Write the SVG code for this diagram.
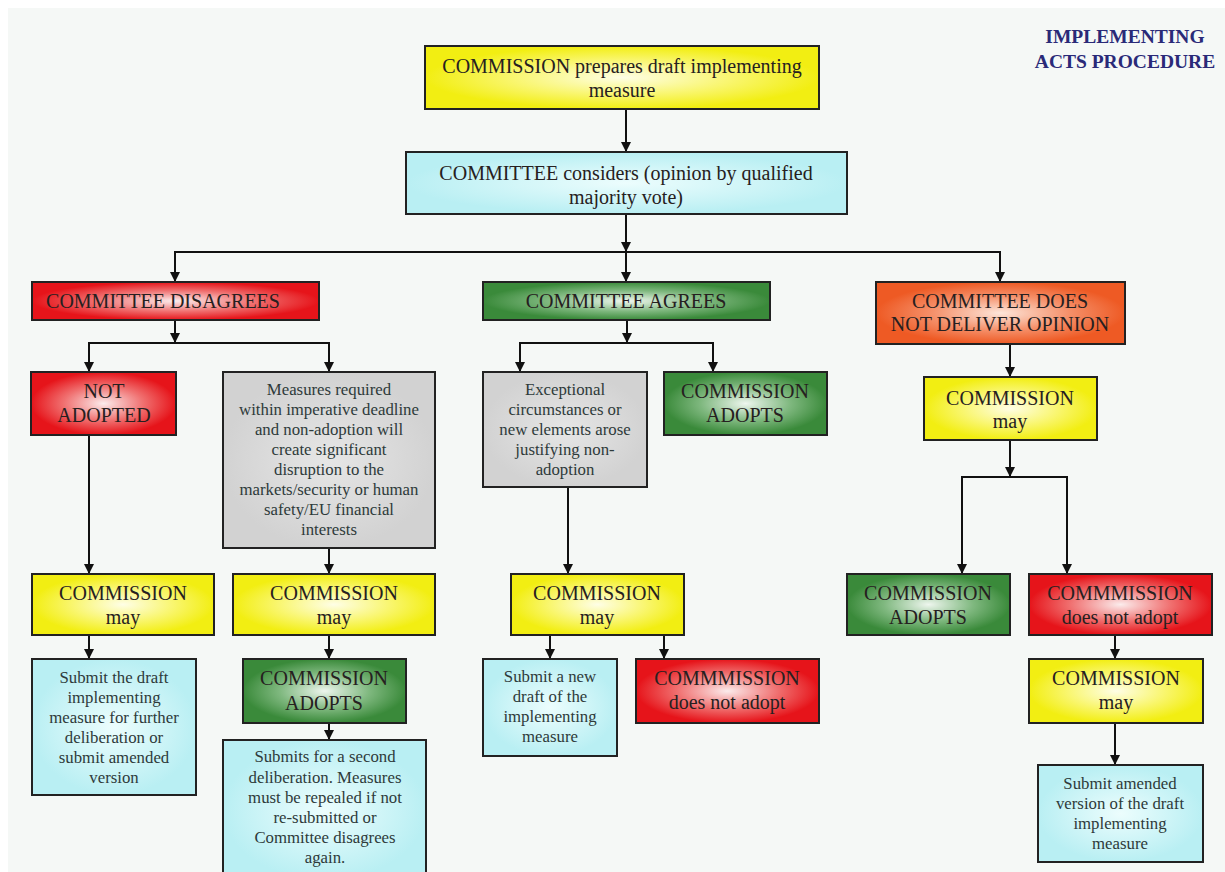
<svg xmlns="http://www.w3.org/2000/svg" width="1225" height="872" viewBox="0 0 1225 872">
<defs>
<radialGradient id="gY"><stop offset="0" stop-color="#fefee6"/><stop offset="0.55" stop-color="#f9f670"/><stop offset="1" stop-color="#f2ee12"/></radialGradient>
<radialGradient id="gR"><stop offset="0" stop-color="#fbecec"/><stop offset="0.55" stop-color="#f07070"/><stop offset="1" stop-color="#e6141a"/></radialGradient>
<radialGradient id="gG"><stop offset="0" stop-color="#eef6ee"/><stop offset="0.55" stop-color="#7fb87f"/><stop offset="1" stop-color="#3a8a3a"/></radialGradient>
<radialGradient id="gO"><stop offset="0" stop-color="#fde6da"/><stop offset="0.55" stop-color="#f5906a"/><stop offset="1" stop-color="#ee5a24"/></radialGradient>
<radialGradient id="gC"><stop offset="0" stop-color="#ecfdfd"/><stop offset="1" stop-color="#b9eff3"/></radialGradient>
<radialGradient id="gS"><stop offset="0" stop-color="#e6e6e6"/><stop offset="1" stop-color="#d2d2d2"/></radialGradient>
<marker id="ah" markerUnits="userSpaceOnUse" markerWidth="11" markerHeight="11" refX="10" refY="5" orient="auto"><path d="M0,0 L10,5 L0,10 z" fill="#111"/></marker>
</defs>
<style>
.b{stroke:#222;stroke-width:2}
.y{fill:url(#gY)}.r{fill:url(#gR)}.g{fill:url(#gG)}.o{fill:url(#gO)}.c{fill:url(#gC)}.s{fill:url(#gS)}
text{font-family:"Liberation Serif","Times New Roman",serif;text-anchor:middle;fill:#262020}
.L{font-size:20px}
.S{font-size:16.8px;fill:#2e3a3a}
.t{font-size:19.5px;font-weight:bold;fill:#2a2a78}
.cn line,.cn polyline{stroke:#111;stroke-width:2;fill:none}
</style>
<rect width="1225" height="872" fill="#ffffff"/>
<rect x="8" y="8" width="1217" height="864" fill="#f5f8f6"/>
<g id="title"><text class="t" x="1125" y="43">IMPLEMENTING</text><text class="t" x="1125" y="68">ACTS PROCEDURE</text></g>

<g class="cn" id="connectors">
<line x1="626" y1="109" x2="626" y2="152" marker-end="url(#ah)"/>
<line x1="626" y1="214" x2="626" y2="252" marker-end="url(#ah)"/>
<polyline points="175,282 175,252 1000,252 1000,282" marker-end="url(#ah)"/>
<line x1="175" y1="252" x2="175" y2="282" marker-end="url(#ah)"/>
<line x1="626" y1="252" x2="626" y2="282" marker-end="url(#ah)"/>
<line x1="175" y1="320" x2="175" y2="343" marker-end="url(#ah)"/>
<polyline points="89,372 89,343 329,343 329,372" marker-end="url(#ah)"/>
<line x1="89" y1="343" x2="89" y2="372" marker-end="url(#ah)"/>
<line x1="89" y1="435" x2="89" y2="574" marker-end="url(#ah)"/>
<line x1="329" y1="548" x2="329" y2="574" marker-end="url(#ah)"/>
<line x1="89" y1="635" x2="89" y2="659" marker-end="url(#ah)"/>
<line x1="329" y1="635" x2="329" y2="659" marker-end="url(#ah)"/>
<line x1="329" y1="723" x2="329" y2="740" marker-end="url(#ah)"/>
<line x1="627" y1="320" x2="627" y2="343" marker-end="url(#ah)"/>
<polyline points="520,372 520,343 713,343 713,372" marker-end="url(#ah)"/>
<line x1="520" y1="343" x2="520" y2="372" marker-end="url(#ah)"/>
<line x1="568" y1="487" x2="568" y2="574" marker-end="url(#ah)"/>
<line x1="550" y1="635" x2="550" y2="659" marker-end="url(#ah)"/>
<line x1="664" y1="635" x2="664" y2="659" marker-end="url(#ah)"/>
<line x1="1010" y1="344" x2="1010" y2="377" marker-end="url(#ah)"/>
<line x1="1010" y1="440" x2="1010" y2="477" marker-end="url(#ah)"/>
<polyline points="962,574 962,477 1067,477 1067,574" marker-end="url(#ah)"/>
<line x1="962" y1="477" x2="962" y2="574" marker-end="url(#ah)"/>
<line x1="1115" y1="635" x2="1115" y2="659" marker-end="url(#ah)"/>
<line x1="1115" y1="723" x2="1115" y2="765" marker-end="url(#ah)"/>
</g>

<g id="n1"><rect class="b y" x="425" y="46" width="394" height="63"/><text class="L" x="622" y="73">COMMISSION prepares draft implementing</text><text class="L" x="622" y="97">measure</text></g>
<g id="n2"><rect class="b c" x="406" y="152" width="441" height="62"/><text class="L" x="626" y="180">COMMITTEE considers (opinion by qualified</text><text class="L" x="626" y="204">majority vote)</text></g>

<g id="n3"><rect class="b r" x="32" y="282" width="287" height="38"/><text class="L" x="163" y="308">COMMITTEE DISAGREES</text></g>
<g id="n4"><rect class="b g" x="483" y="282" width="287" height="38"/><text class="L" x="626" y="308">COMMITTEE AGREES</text></g>
<g id="n5"><rect class="b o" x="876" y="282" width="249" height="62"/><text class="L" x="1000" y="308">COMMITTEE DOES</text><text class="L" x="1000" y="331">NOT DELIVER OPINION</text></g>

<g id="n6"><rect class="b r" x="31" y="372" width="145" height="63"/><text class="L" x="104" y="398">NOT</text><text class="L" x="104" y="422">ADOPTED</text></g>
<g id="n7"><rect class="b s" x="223" y="372" width="212" height="176"/>
<text class="S" x="329" y="395">Measures required</text><text class="S" x="329" y="415">within imperative deadline</text><text class="S" x="329" y="435">and non-adoption will</text><text class="S" x="329" y="455">create significant</text><text class="S" x="329" y="475">disruption to the</text><text class="S" x="329" y="495">markets/security or human</text><text class="S" x="329" y="515">safety/EU financial</text><text class="S" x="329" y="535">interests</text></g>
<g id="n8"><rect class="b s" x="483" y="372" width="164" height="115"/>
<text class="S" x="565" y="395">Exceptional</text><text class="S" x="565" y="415">circumstances or</text><text class="S" x="565" y="435">new elements arose</text><text class="S" x="565" y="455">justifying non-</text><text class="S" x="565" y="475">adoption</text></g>
<g id="n9"><rect class="b g" x="664" y="372" width="163" height="63"/><text class="L" x="745" y="398">COMMISSION</text><text class="L" x="745" y="422">ADOPTS</text></g>
<g id="n10"><rect class="b y" x="924" y="377" width="173" height="63"/><text class="L" x="1010" y="405">COMMISSION</text><text class="L" x="1010" y="428">may</text></g>

<g id="n11"><rect class="b y" x="32" y="574" width="182" height="61"/><text class="L" x="123" y="600">COMMISSION</text><text class="L" x="123" y="624">may</text></g>
<g id="n12"><rect class="b y" x="233" y="574" width="202" height="61"/><text class="L" x="334" y="600">COMMISSION</text><text class="L" x="334" y="624">may</text></g>
<g id="n13"><rect class="b y" x="511" y="574" width="173" height="61"/><text class="L" x="597" y="600">COMMISSION</text><text class="L" x="597" y="624">may</text></g>
<g id="n14"><rect class="b g" x="847" y="574" width="163" height="61"/><text class="L" x="928" y="600">COMMISSION</text><text class="L" x="928" y="624">ADOPTS</text></g>
<g id="n15"><rect class="b r" x="1029" y="574" width="183" height="61"/><text class="L" x="1120" y="600">COMMMISSION</text><text class="L" x="1120" y="624">does not adopt</text></g>

<g id="n16"><rect class="b c" x="32" y="659" width="164" height="136"/>
<text class="S" x="114" y="683">Submit the draft</text><text class="S" x="114" y="703">implementing</text><text class="S" x="114" y="723">measure for further</text><text class="S" x="114" y="743">deliberation or</text><text class="S" x="114" y="763">submit amended</text><text class="S" x="114" y="783">version</text></g>
<g id="n17"><rect class="b g" x="243" y="659" width="163" height="64"/><text class="L" x="324" y="685">COMMISSION</text><text class="L" x="324" y="710">ADOPTS</text></g>
<g id="n18"><rect class="b c" x="223" y="740" width="203" height="140"/>
<text class="S" x="325" y="762">Submits for a second</text><text class="S" x="325" y="783">deliberation. Measures</text><text class="S" x="325" y="803">must be repealed if not</text><text class="S" x="325" y="823">re-submitted or</text><text class="S" x="325" y="843">Committee disagrees</text><text class="S" x="325" y="863">again.</text></g>
<g id="n19"><rect class="b c" x="483" y="659" width="134" height="97"/>
<text class="S" x="550" y="682">Submit a new</text><text class="S" x="550" y="702">draft of the</text><text class="S" x="550" y="722">implementing</text><text class="S" x="550" y="742">measure</text></g>
<g id="n20"><rect class="b r" x="636" y="659" width="183" height="64"/><text class="L" x="727" y="685">COMMMISSION</text><text class="L" x="727" y="709">does not adopt</text></g>
<g id="n21"><rect class="b y" x="1029" y="659" width="174" height="64"/><text class="L" x="1116" y="685">COMMISSION</text><text class="L" x="1116" y="709">may</text></g>
<g id="n22"><rect class="b c" x="1038" y="765" width="165" height="97"/>
<text class="S" x="1120" y="789">Submit amended</text><text class="S" x="1120" y="809">version of the draft</text><text class="S" x="1120" y="829">implementing</text><text class="S" x="1120" y="849">measure</text></g>
</svg>
